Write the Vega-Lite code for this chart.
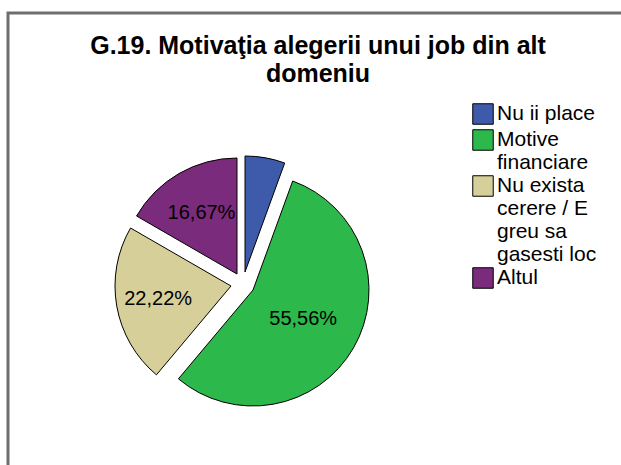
{
  "$schema": "https://vega.github.io/schema/vega-lite/v6.json",
  "width": 620,
  "height": 542,
  "autosize": "none",
  "padding": {"left": 8, "top": 13, "right": 0, "bottom": 0},
  "background": "white",
  "view": {"stroke": "#6e6e6e", "strokeWidth": 3},
  "config": {
    "view": {"stroke": "#6e6e6e", "strokeWidth": 3},
    "locale": {"number": {"decimal": ",", "thousands": ".", "grouping": [3], "currency": ["", ""]}}
  },
  "title": {
    "text": ["G.19. Motivaţia alegerii unui job din alt", "domeniu"],
    "font": "Liberation Sans",
    "fontSize": 25,
    "fontWeight": "bold",
    "color": "black",
    "anchor": "middle",
    "frame": "group",
    "lineHeight": 28,
    "offset": -74
  },
  "data": {
    "values": [
      {"motiv": "Nu ii place", "pct": 0.0556, "ordine": 1},
      {"motiv": "Motive financiare", "pct": 0.5556, "ordine": 2},
      {"motiv": "Nu exista cerere / E greu sa gasesti loc", "pct": 0.2222, "ordine": 3},
      {"motiv": "Altul", "pct": 0.1667, "ordine": 4}
    ]
  },
  "encoding": {
    "theta": {"field": "pct", "type": "quantitative", "stack": true},
    "order": {"field": "ordine", "type": "quantitative"},
    "color": {
      "field": "motiv",
      "type": "nominal",
      "scale": {
        "domain": ["Nu ii place", "Motive financiare", "Nu exista cerere / E greu sa gasesti loc", "Altul"],
        "range": ["#3e5aab", "#2db84b", "#d6cf9a", "#7a2b7c"]
      },
      "legend": {
        "orient": "none",
        "legendX": 464,
        "legendY": 90,
        "title": null,
        "symbolType": "square",
        "symbolSize": 420,
        "symbolStrokeColor": "black",
        "symbolStrokeWidth": 1,
        "labelFont": "Liberation Sans",
        "labelFontSize": 21,
        "labelColor": "black",
        "labelOffset": 3,
        "labelLimit": 200,
        "rowPadding": 0,
        "labelExpr": "datum.label === 'Motive financiare' ? ['Motive', 'financiare'] : datum.label === 'Nu exista cerere / E greu sa gasesti loc' ? ['Nu exista', 'cerere / E', 'greu sa', 'gasesti loc'] : datum.label"
      }
    }
  },
  "layer": [
    {
      "mark": {"type": "arc", "outerRadius": 116, "stroke": "black", "strokeWidth": 1, "xOffset": -73, "yOffset": -12},
      "encoding": {"opacity": {"condition": {"test": "datum.motiv === 'Nu ii place'", "value": 1}, "value": 0}}
    },
    {
      "mark": {"type": "arc", "outerRadius": 116, "stroke": "black", "strokeWidth": 1, "xOffset": -65, "yOffset": 6},
      "encoding": {"opacity": {"condition": {"test": "datum.motiv === 'Motive financiare'", "value": 1}, "value": 0}}
    },
    {
      "mark": {"type": "arc", "outerRadius": 116, "stroke": "black", "strokeWidth": 1, "xOffset": -87, "yOffset": 2},
      "encoding": {"opacity": {"condition": {"test": "datum.motiv === 'Nu exista cerere / E greu sa gasesti loc'", "value": 1}, "value": 0}}
    },
    {
      "mark": {"type": "arc", "outerRadius": 116, "stroke": "black", "strokeWidth": 1, "xOffset": -81, "yOffset": -10},
      "encoding": {"opacity": {"condition": {"test": "datum.motiv === 'Altul'", "value": 1}, "value": 0}}
    },
    {
      "mark": {"type": "text", "radius": 58, "xOffset": -65, "yOffset": 6, "font": "Liberation Sans", "fontSize": 20, "baseline": "middle", "align": "center"},
      "encoding": {"text": {"condition": {"test": "datum.motiv === 'Motive financiare'", "field": "pct", "type": "quantitative", "format": ".2%"}, "value": ""}, "color": {"value": "black"}}
    },
    {
      "mark": {"type": "text", "radius": 74, "xOffset": -87, "yOffset": 2, "font": "Liberation Sans", "fontSize": 20, "baseline": "middle", "align": "center"},
      "encoding": {"text": {"condition": {"test": "datum.motiv === 'Nu exista cerere / E greu sa gasesti loc'", "field": "pct", "type": "quantitative", "format": ".2%"}, "value": ""}, "color": {"value": "black"}}
    },
    {
      "mark": {"type": "text", "radius": 71, "xOffset": -81, "yOffset": -10, "font": "Liberation Sans", "fontSize": 20, "baseline": "middle", "align": "center"},
      "encoding": {"text": {"condition": {"test": "datum.motiv === 'Altul'", "field": "pct", "type": "quantitative", "format": ".2%"}, "value": ""}, "color": {"value": "black"}}
    }
  ]
}
